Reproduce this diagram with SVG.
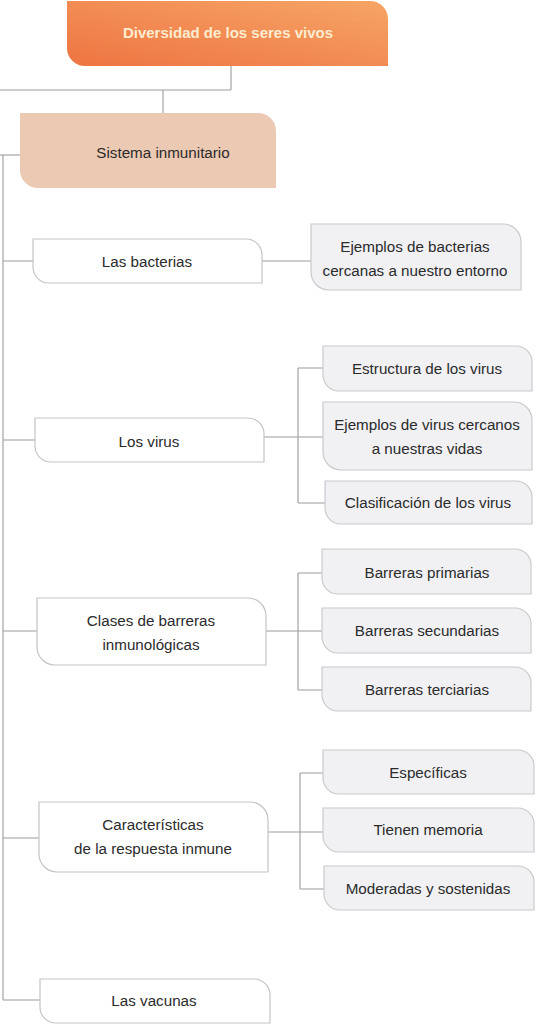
<svg xmlns="http://www.w3.org/2000/svg" width="538" height="1024" viewBox="0 0 538 1024">
<defs>
<linearGradient id="og" x1="0" y1="1" x2="1" y2="0">
<stop offset="0" stop-color="#ee7442"/>
<stop offset="1" stop-color="#f6a566"/>
</linearGradient>
<style>
.t{font-family:"Liberation Sans",Arial,sans-serif;font-size:15.2px;fill:#2b2b2b;text-anchor:middle}
.title{font-family:"Liberation Sans",Arial,sans-serif;font-size:15px;font-weight:bold;fill:#fdeccf;text-anchor:middle}
.main{fill:#ffffff;stroke:#c4c4c4;stroke-width:1.2}
.sub{fill:#f1f1f4;stroke:#cacacd;stroke-width:1.2}
.ln{fill:none;stroke:#9c9c9c;stroke-width:1.1}
</style>
</defs>
<rect width="538" height="1024" fill="#ffffff"/>
<g id="connectors">
<path class="ln" d="M231 66 V90 M0 90 H231 M163 90 V113"/>
<path class="ln" d="M0 155 H20"/>
<path class="ln" d="M3 155 V1000"/>
<path class="ln" d="M3 261 H33 M262 261 H311"/>
<path class="ln" d="M3 440 H35 M264 437 H323 M298 368 V503 M298 368 H323 M298 503 H325"/>
<path class="ln" d="M3 631 H37 M266 631 H322 M298 573 V690 M298 573 H322 M298 690 H322"/>
<path class="ln" d="M3 838 H39 M268 832 H323 M300 773 V889 M300 773 H323 M300 889 H324"/>
<path class="ln" d="M3 1000 H40"/>
</g>
<g id="n-title">
<path d="M67 1 H370 A18 18 0 0 1 388 19 V66 H85 A18 18 0 0 1 67 48 Z" fill="url(#og)"/>
<text class="title" x="228" y="38">Diversidad de los seres vivos</text>
</g>
<g id="n-sistema">
<path d="M20 113 H258 A18 18 0 0 1 276 131 V188 H38 A18 18 0 0 1 20 170 Z" fill="#ecc9b3"/>
<text class="t" x="163" y="158">Sistema inmunitario</text>
</g>
<g id="n-bacterias">
<path class="main" d="M33 239 H246 A16 16 0 0 1 262 255 V283 H49 A16 16 0 0 1 33 267 Z"/>
<text class="t" x="147" y="267">Las bacterias</text>
</g>
<g id="n-ej-bacterias">
<path class="sub" d="M311 224 H503 A18 18 0 0 1 521 242 V290 H329 A18 18 0 0 1 311 272 Z"/>
<text class="t" x="415" y="252">Ejemplos de bacterias</text>
<text class="t" x="415" y="276">cercanas a nuestro entorno</text>
</g>
<g id="n-virus">
<path class="main" d="M35 418 H248 A16 16 0 0 1 264 434 V462 H51 A16 16 0 0 1 35 446 Z"/>
<text class="t" x="149" y="447">Los virus</text>
</g>
<g id="n-estructura">
<path class="sub" d="M323 346 H516 A16 16 0 0 1 532 362 V391 H339 A16 16 0 0 1 323 375 Z"/>
<text class="t" x="427" y="374">Estructura de los virus</text>
</g>
<g id="n-ej-virus">
<path class="sub" d="M323 402 H514 A18 18 0 0 1 532 420 V470 H341 A18 18 0 0 1 323 452 Z"/>
<text class="t" x="427" y="430">Ejemplos de virus cercanos</text>
<text class="t" x="427" y="454">a nuestras vidas</text>
</g>
<g id="n-clasificacion">
<path class="sub" d="M325 481 H516 A16 16 0 0 1 532 497 V524 H341 A16 16 0 0 1 325 508 Z"/>
<text class="t" x="428" y="508">Clasificación de los virus</text>
</g>
<g id="n-barreras">
<path class="main" d="M37 598 H248 A18 18 0 0 1 266 616 V665 H55 A18 18 0 0 1 37 647 Z"/>
<text class="t" x="151" y="626">Clases de barreras</text>
<text class="t" x="151" y="650">inmunológicas</text>
</g>
<g id="n-primarias">
<path class="sub" d="M322 549 H515 A16 16 0 0 1 531 565 V594 H338 A16 16 0 0 1 322 578 Z"/>
<text class="t" x="427" y="578">Barreras primarias</text>
</g>
<g id="n-secundarias">
<path class="sub" d="M322 608 H515 A16 16 0 0 1 531 624 V653 H338 A16 16 0 0 1 322 637 Z"/>
<text class="t" x="427" y="636">Barreras secundarias</text>
</g>
<g id="n-terciarias">
<path class="sub" d="M322 667 H515 A16 16 0 0 1 531 683 V711 H338 A16 16 0 0 1 322 695 Z"/>
<text class="t" x="427" y="695">Barreras terciarias</text>
</g>
<g id="n-caracteristicas">
<path class="main" d="M39 802 H250 A18 18 0 0 1 268 820 V872 H57 A18 18 0 0 1 39 854 Z"/>
<text class="t" x="153" y="830">Características</text>
<text class="t" x="153" y="854">de la respuesta inmune</text>
</g>
<g id="n-especificas">
<path class="sub" d="M323 750 H518 A16 16 0 0 1 534 766 V794 H339 A16 16 0 0 1 323 778 Z"/>
<text class="t" x="428" y="778">Específicas</text>
</g>
<g id="n-memoria">
<path class="sub" d="M323 808 H518 A16 16 0 0 1 534 824 V852 H339 A16 16 0 0 1 323 836 Z"/>
<text class="t" x="428" y="835">Tienen memoria</text>
</g>
<g id="n-moderadas">
<path class="sub" d="M324 866 H518 A16 16 0 0 1 534 882 V910 H340 A16 16 0 0 1 324 894 Z"/>
<text class="t" x="428" y="894">Moderadas y sostenidas</text>
</g>
<g id="n-vacunas">
<path class="main" d="M40 979 H254 A16 16 0 0 1 270 995 V1023 H56 A16 16 0 0 1 40 1007 Z"/>
<text class="t" x="154" y="1006">Las vacunas</text>
</g>
</svg>
